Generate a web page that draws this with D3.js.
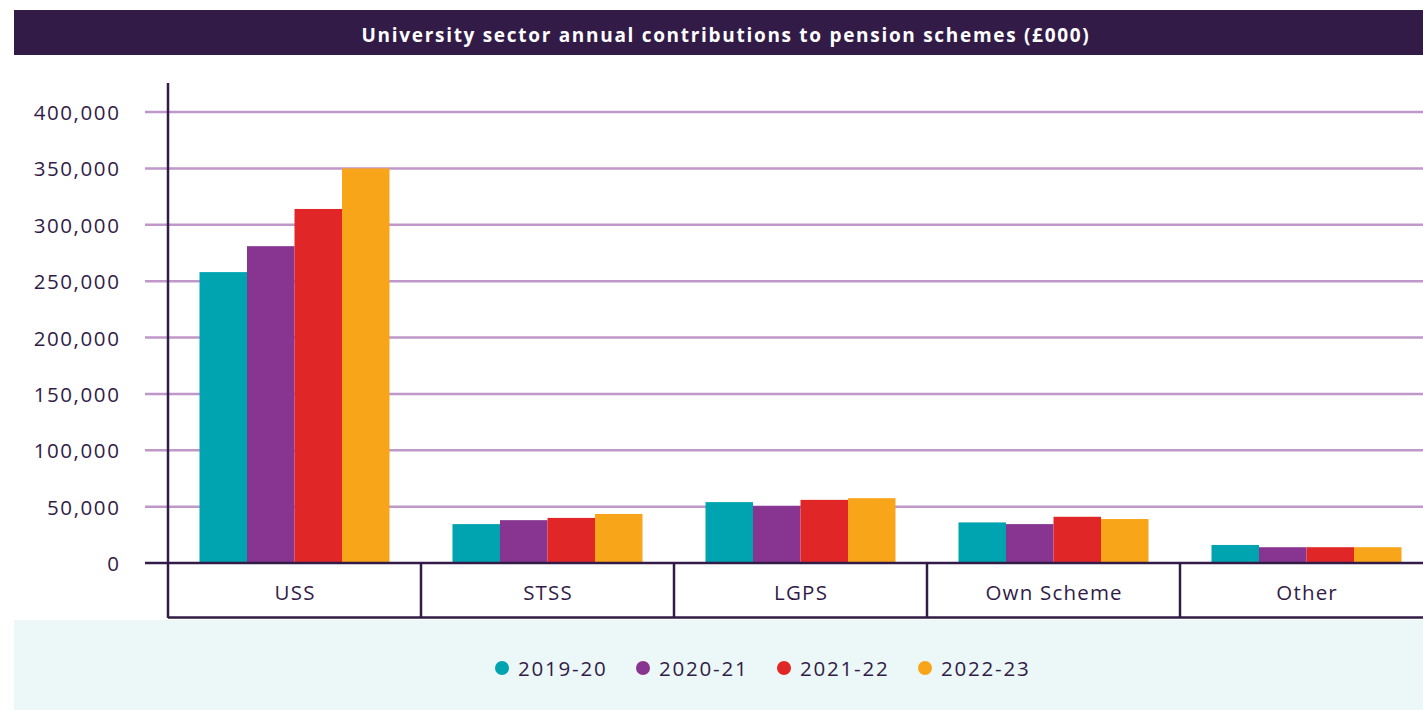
<!DOCTYPE html>
<html>
<head>
<meta charset="utf-8">
<script src="https://cdn.jsdelivr.net/npm/d3@7"></script>
<style>
  html, body { margin: 0; padding: 0; background: #ffffff; }
  svg { display: block; }
</style>
</head>
<body>
<svg id="chart" width="1423" height="710"></svg>
<script>
const categories = ["USS", "STSS", "LGPS", "Own Scheme", "Other"];
const seriesNames = ["2019-20", "2020-21", "2021-22", "2022-23"];
const values2019 = [258000, 34500, 54000, 36000, 16000];
const values2020 = [281000, 38000, 50500, 34500, 14000];
const values2021 = [314000, 40000, 56000, 41000, 14000];
const values2022 = [350000, 43500, 57500, 39000, 14000];
const seriesValues = [values2019, values2020, values2021, values2022];
const yTicks = [0, 50000, 100000, 150000, 200000, 250000, 300000, 350000, 400000];
const colors = ["#00a3b0", "#873591", "#e02626", "#f9a51a"];
const title = "University sector annual contributions to pension schemes (£000)";

const dark = "#321c47";
const grid = "#bf97c9";
const font = "'Open Sans', sans-serif";

const svg = d3.select("#chart");

// Title bar
svg.append("rect").attr("x", 14).attr("y", 10).attr("width", 1409).attr("height", 45).attr("fill", dark);
svg.append("text").attr("x", 726).attr("y", 35).attr("text-anchor", "middle").attr("dominant-baseline", "central")
  .attr("fill", "#ffffff").attr("font-family", font).attr("font-weight", "bold").attr("font-size", 19)
  .attr("letter-spacing", 1.7).text(title);

// Legend background
svg.append("rect").attr("x", 14).attr("y", 620).attr("width", 1409).attr("height", 90).attr("fill", "#ecf7f7");

// Scales
const x0 = d3.scaleBand().domain(categories).range([168, 1433]).padding(0);
const x1 = d3.scaleBand().domain(seriesNames).range([0, x0.bandwidth()]).paddingInner(0).paddingOuter(0.663);
const y = d3.scaleLinear().domain([0, 400000]).range([563, 112]);

// Gridlines
svg.append("g").selectAll("line").data(yTicks.filter(d => d > 0)).join("line")
  .attr("x1", 145).attr("x2", 1423).attr("y1", d => y(d)).attr("y2", d => y(d))
  .attr("stroke", grid).attr("stroke-width", 2.5);

// Y tick labels
svg.append("g").selectAll("text").data(yTicks).join("text")
  .attr("x", 120.5).attr("y", d => y(d)).attr("text-anchor", "end").attr("dominant-baseline", "central")
  .attr("fill", dark).attr("font-family", font).attr("font-size", 20.5).attr("letter-spacing", 1.6)
  .text(d => d3.format(",")(d));

// Bars
const groups = svg.append("g").selectAll("g").data(categories).join("g")
  .attr("transform", c => `translate(${x0(c)},0)`);
groups.selectAll("rect").data((c, ci) => seriesNames.map((s, si) => ({ s, si, v: seriesValues[si][ci] }))).join("rect")
  .attr("x", d => x1(d.s)).attr("width", x1.bandwidth())
  .attr("y", d => y(d.v)).attr("height", d => y(0) - y(d.v))
  .attr("fill", d => colors[d.si]);

// Baseline
svg.append("line").attr("x1", 145).attr("x2", 1423).attr("y1", y(0)).attr("y2", y(0))
  .attr("stroke", dark).attr("stroke-width", 2.5);

// Y axis line
svg.append("line").attr("x1", 168).attr("x2", 168).attr("y1", 83).attr("y2", 618)
  .attr("stroke", dark).attr("stroke-width", 2.5);

// Category boxes
svg.append("line").attr("x1", 168).attr("x2", 1423).attr("y1", 617.5).attr("y2", 617.5)
  .attr("stroke", dark).attr("stroke-width", 2.5);
svg.append("g").selectAll("line").data(categories).join("line")
  .attr("x1", c => x0(c) + x0.bandwidth()).attr("x2", c => x0(c) + x0.bandwidth())
  .attr("y1", y(0)).attr("y2", 618).attr("stroke", dark).attr("stroke-width", 2.5);
svg.append("g").selectAll("text").data(categories).join("text")
  .attr("x", c => x0(c) + x0.bandwidth() / 2 + 0.6).attr("y", 592)
  .attr("text-anchor", "middle").attr("dominant-baseline", "central")
  .attr("fill", dark).attr("font-family", font).attr("font-size", 20.5).attr("letter-spacing", 1.2).text(c => c);

// Legend
const legendX = [502, 643, 784, 925];
const lg = svg.append("g").selectAll("g").data(seriesNames).join("g")
  .attr("transform", (d, i) => `translate(${legendX[i]},668)`);
lg.append("circle").attr("r", 7).attr("fill", (d, i) => colors[i]);
lg.append("text").attr("x", 16).attr("y", 0).attr("dominant-baseline", "central")
  .attr("fill", dark).attr("font-family", font).attr("font-size", 20.5).attr("letter-spacing", 1.8).text(d => d);
</script>
</body>
</html>
